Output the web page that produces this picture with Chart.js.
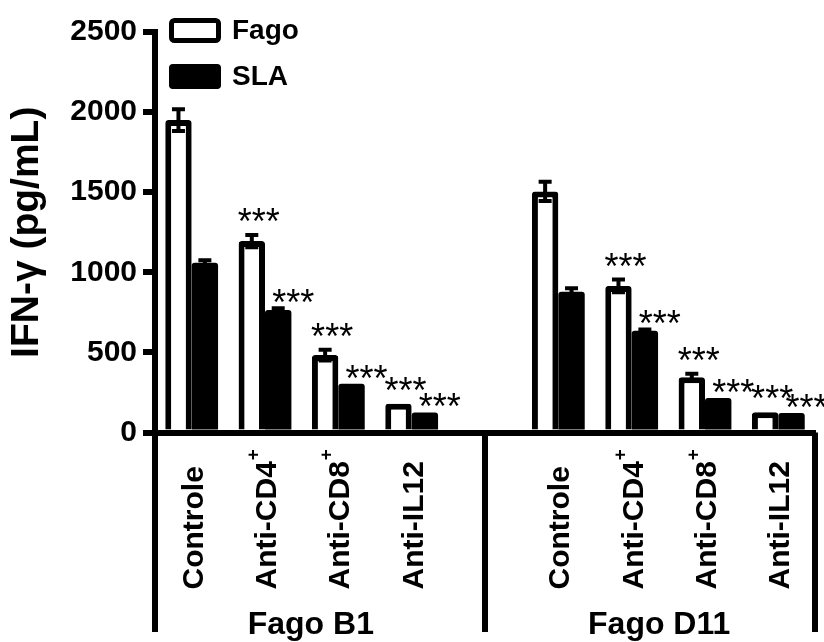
<!DOCTYPE html>
<html>
<head>
<meta charset="utf-8">
<script src="https://cdn.jsdelivr.net/npm/chart.js@4"></script>
<style>
  html, body { margin: 0; background: #fff; }
  #wrap { width: 824px; height: 642px; position: relative; }
</style>
</head>
<body>
<div id="wrap"><canvas id="ifnChart"></canvas></div>
<script>
// ===== Data =====
const treatments = ['Controle', 'Anti-CD4+', 'Anti-CD8+', 'Anti-IL12'];
const phageGroups = ['Fago B1', 'Fago D11'];
const seriesNames = ['Fago', 'SLA'];

const fagoB1 = [1950, 1195, 483, 180];
const fagoB1Err = [68, 38, 34, 0];
const slaB1 = [1060, 765, 305, 125];
const slaB1Err = [15, 10, 0, 0];

const fagoD11 = [1505, 915, 345, 126];
const fagoD11Err = [60, 40, 22, 0];
const slaD11 = [878, 635, 216, 122];
const slaD11Err = [22, 8, 0, 0];

// *** = p < 0.001 vs Controle
const sigFago = [false, true, true, true];
const sigSla = [false, true, true, true];

const yTicks = [0, 500, 1000, 1500, 2000, 2500];

const FONT = '"Liberation Sans", Arial, sans-serif';

// two groups with an empty slot between them
const labels = [...treatments, '', ...treatments];
const join = (a, b, gap) => [...a, gap, ...b];

const datasets = [
  {
    label: seriesNames[0],
    data: join(fagoB1, fagoD11, null),
    errors: join(fagoB1Err, fagoD11Err, 0),
    sig: join(sigFago, sigFago, false),
    starDx: 7, starGap: 20,
    backgroundColor: '#fff',
    borderColor: '#000',
    borderWidth: 6,
    borderRadius: 3
  },
  {
    label: seriesNames[1],
    data: join(slaB1, slaD11, null),
    errors: join(slaB1Err, slaD11Err, 0),
    sig: join(sigSla, sigSla, false),
    starDx: 15, starGap: 12,
    backgroundColor: '#000',
    borderColor: '#000',
    borderWidth: 0,
    borderRadius: 3
  }
];

function drawStars(ctx, cx, cy) {
  ctx.font = '36px ' + FONT;
  ctx.textAlign = 'center';
  ctx.textBaseline = 'alphabetic';
  const m = ctx.measureText('***');
  const off = (m.actualBoundingBoxAscent - m.actualBoundingBoxDescent) / 2;
  ctx.fillText('***', cx, cy + off);
}

// error bars, significance marks, category labels, group brackets, legend
const extras = {
  id: 'extras',
  afterDatasetsDraw(chart) {
    const { ctx } = chart;
    const y = chart.scales.y;
    ctx.save();
    ctx.fillStyle = '#000';
    ctx.strokeStyle = '#000';
    chart.data.datasets.forEach((ds, di) => {
      chart.getDatasetMeta(di).data.forEach((bar, i) => {
        const v = ds.data[i];
        if (v == null) return;
        const e = ds.errors[i] || 0;
        const top = y.getPixelForValue(v + e);
        if (e > 0) {
          const bot = y.getPixelForValue(v - e);
          ctx.lineWidth = 4;
          ctx.beginPath();
          ctx.moveTo(bar.x, top); ctx.lineTo(bar.x, bot);
          ctx.moveTo(bar.x - 6.5, top); ctx.lineTo(bar.x + 6.5, top);
          ctx.moveTo(bar.x - 6.5, bot); ctx.lineTo(bar.x + 6.5, bot);
          ctx.stroke();
        }
        if (ds.sig[i]) drawStars(ctx, bar.x + ds.starDx, top - ds.starGap);
      });
    });
    ctx.restore();
  },
  afterDraw(chart) {
    const { ctx, chartArea } = chart;
    const x = chart.scales.x;
    const H = chart.height;
    ctx.save();
    ctx.fillStyle = '#000';
    ctx.strokeStyle = '#000';

    // group bracket lines below the axis
    const splits = [chartArea.left, x.getPixelForValue(treatments.length), chartArea.right];
    ctx.lineWidth = 6;
    ctx.beginPath();
    splits.forEach(px => { ctx.moveTo(px, chartArea.bottom); ctx.lineTo(px, H - 10); });
    ctx.stroke();

    // rotated category labels
    labels.forEach((lab, i) => {
      if (!lab) return;
      const cx = x.getPixelForValue(i);
      const sup = lab.endsWith('+');
      const main = sup ? lab.slice(0, -1) : lab;
      ctx.save();
      ctx.translate(cx + 11, chartArea.bottom + 157);
      ctx.rotate(-Math.PI / 2);
      ctx.font = 'bold 30px ' + FONT;
      ctx.textAlign = 'left';
      ctx.textBaseline = 'alphabetic';
      ctx.fillText(main, 0, 0);
      if (sup) {
        const w = ctx.measureText(main).width;
        ctx.font = 'bold 19px ' + FONT;
        ctx.fillText('+', w + 1, -17);
      }
      ctx.restore();
    });

    // group names
    ctx.font = 'bold 32px ' + FONT;
    ctx.textAlign = 'center';
    ctx.textBaseline = 'middle';
    phageGroups.forEach((g, gi) => {
      const first = x.getPixelForValue(gi * (treatments.length + 1));
      const last = x.getPixelForValue(gi * (treatments.length + 1) + treatments.length - 1);
      const mid = ((first + last) / 2 + (splits[gi] + splits[gi + 1]) / 2) / 2;
      ctx.fillText(g, mid, H - 17);
    });

    // legend (inside plot, top left)
    ctx.textAlign = 'left';
    ctx.font = 'bold 28px ' + FONT;
    chart.data.datasets.forEach((ds, di) => {
      const bx = chartArea.left + 14, by = 18 + di * 46, bw = 52, bh = 25;
      ctx.beginPath();
      ctx.roundRect(bx, by, bw, bh, 4);
      ctx.fillStyle = ds.backgroundColor;
      ctx.fill();
      ctx.lineWidth = 5;
      ctx.strokeStyle = '#000';
      ctx.beginPath();
      ctx.roundRect(bx + 2.5, by + 2.5, bw - 5, bh - 5, 3);
      ctx.stroke();
      ctx.fillStyle = '#000';
      ctx.fillText(ds.label, bx + bw + 11, by + bh / 2 + 1);
    });
    ctx.restore();
  }
};

new Chart(document.getElementById('ifnChart').getContext('2d'), {
  type: 'bar',
  data: { labels, datasets },
  plugins: [extras],
  options: {
    responsive: true, maintainAspectRatio: false, animation: false,
    layout: { padding: { top: 32, right: 9, bottom: 0, left: 0 } },
    datasets: { bar: { categoryPercentage: 0.72, barPercentage: 1.0, borderSkipped: 'start' } },
    plugins: { legend: { display: false }, tooltip: { enabled: false } },
    scales: {
      x: {
        grid: { display: false },
        border: { display: true, color: '#000', width: 6 },
        ticks: { display: false },
        afterFit: s => { s.height = 209.5; }
      },
      y: {
        min: 0, max: 2500,
        afterBuildTicks: s => { s.ticks = yTicks.map(v => ({ value: v })); },
        grid: { display: true, drawOnChartArea: false, drawTicks: true, tickLength: 12, tickWidth: 6, tickColor: '#000', color: '#000', lineWidth: 6 },
        border: { display: true, color: '#000', width: 6 },
        ticks: { color: '#000', padding: 6, callback: v => String(v), font: { family: FONT, size: 30, weight: 'bold' } },
        title: { display: true, text: 'IFN-γ (pg/mL)', color: '#000', padding: { top: 4, bottom: 0 }, font: { family: FONT, size: 39, weight: 'bold' } },
        afterFit: s => { s.width = 155; }
      }
    }
  }
});
</script>
</body>
</html>
